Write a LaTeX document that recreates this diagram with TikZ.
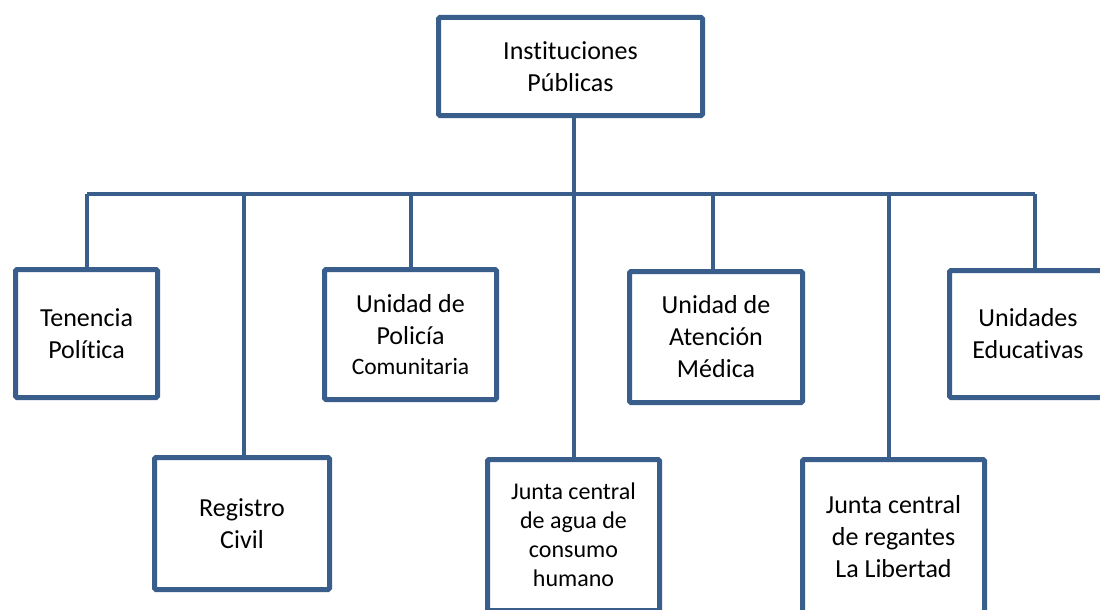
\documentclass[tikz,border=0pt]{standalone}
\usepackage{fontspec}
\setmainfont[Ligatures=NoCommon]{Carlito}
\definecolor{orgblue}{RGB}{58,94,140}
\tikzset{
  unitbox/.style={draw=orgblue, line width=5pt, rounded corners=1.5pt, fill=white,
    align=center, inner sep=0pt, font=\fontsize{26}{32}\selectfont},
  smalltext/.style={font=\fontsize{24}{29}\selectfont},
  link/.style={draw=orgblue, line width=4pt},
}
\begin{document}
\begin{tikzpicture}[x=1pt,y=-1pt]
\useasboundingbox (0,0) rectangle (1100,610);
% top of the chart
\node[unitbox, minimum width=264pt, minimum height=98pt] (top) at (570.5,66.5) {Instituciones\\Públicas};
% first row
\node[unitbox, minimum width=142pt, minimum height=128pt] (tenencia) at (86.5,333.5) {Tenencia\\Política};
\node[unitbox, minimum width=172pt, minimum height=130pt] (policia) at (410.5,334.5) {Unidad de\\Policía\\[-2pt]{\fontsize{23.5}{29}\selectfont Comunitaria}};
\node[unitbox, minimum width=173pt, minimum height=131pt] (atencion) at (716,337) {Unidad de\\Atención\\Médica};
\node[unitbox, minimum width=157pt, minimum height=127pt] (educ) at (1028,334) {Unidades\\Educativas};
% second row
\node[unitbox, minimum width=175pt, minimum height=132pt] (registro) at (242,523.5) {Registro\\Civil};
\node[unitbox, smalltext, minimum width=172pt, minimum height=151pt] (agua) at (573.5,535) {Junta central\\de agua de\\consumo\\humano};
\node[unitbox, minimum width=182pt, minimum height=155pt] (regantes) at (893.5,537) {Junta central\\de regantes\\La Libertad};
% connectors
\coordinate (barL) at (87,194);
\coordinate (barR) at (1035,194);
\draw[link] (barL) -- (barR);
\draw[link] (top.south -| agua.north) -- (agua.north);
\foreach \nd/\dx in {tenencia/0.5, registro/2, policia/0.5, atencion/-3, regantes/-4.5, educ/7}
  \draw[link] ([xshift=\dx pt]\nd.north) -- ([xshift=\dx pt]\nd.north |- barL);
\end{tikzpicture}
\end{document}
